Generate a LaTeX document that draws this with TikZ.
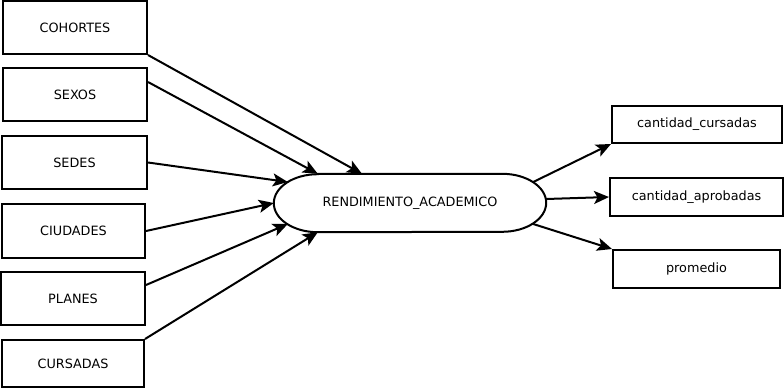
\documentclass[tikz,border=0pt]{standalone}
\usepackage{fontspec}
\setmainfont{DejaVu Sans}
\usetikzlibrary{arrows.meta,calc}
\tikzset{
  box/.style={draw, line width=2pt, inner sep=0pt, font=\fontsize{12.8}{15}\selectfont},
  link/.style={line width=2pt, -{Stealth[length=15pt,width=13pt,inset=3.5pt]}},
  hub/.style={inner sep=0pt, minimum width=272pt, minimum height=58pt, font=\fontsize{12.8}{15}\selectfont}
}
\begin{document}
\begin{tikzpicture}[x=1pt,y=-1pt]
  \useasboundingbox (0,0) rectangle (784,388);
  % sources
  \node[box, minimum width=144pt, minimum height=53pt] (coh) at (75,27.5) {COHORTES};
  \node[box, minimum width=144pt, minimum height=53pt] (sex) at (75,94.5) {SEXOS};
  \node[box, minimum width=145pt, minimum height=53pt] (sed) at (74.5,162.5) {SEDES};
  \node[box, minimum width=143pt, minimum height=54pt] (ciu) at (73.5,231) {CIUDADES};
  \node[box, minimum width=144pt, minimum height=53pt] (pla) at (73,298.5) {PLANES};
  \node[box, minimum width=142pt, minimum height=47pt] (cur) at (73,363.5) {CURSADAS};
  % central process
  \node[hub] (ren) at (410,203) {RENDIMIENTO\_ACADEMICO};
  \draw[line width=2pt]
    ($(ren.north west)+(44,0)$) -- ($(ren.north east)+(-44,0)$)
    arc[start angle=90, end angle=-90, x radius=44pt, y radius=29pt]
    -- ($(ren.south west)+(44,0)$)
    arc[start angle=270, end angle=90, x radius=44pt, y radius=29pt] -- cycle;
  % outputs
  \node[box, minimum width=170pt, minimum height=37pt] (cc) at (697,124.5) {cantidad\_cursadas};
  \node[box, minimum width=173pt, minimum height=38pt] (ca) at (696.5,197) {cantidad\_aprobadas};
  \node[box, minimum width=167pt, minimum height=38pt] (pro) at (696.5,269) {promedio};
  % inputs into the process
  \draw[link] (coh.south east) -- ($(ren.north)+(-48,0)$);
  \draw[link] ($(sex.east)+(0,-12.5)$) -- ($(ren.north west)+(44,0)$);
  \draw[link] (sed.east) -- ($(ren.west)+(14,-21)$);
  \draw[link] (ciu.east) -- (ren.west);
  \draw[link] ($(pla.east)+(0,-13.5)$) -- ($(ren.west)+(14,21)$);
  \draw[link] (cur.north east) -- ($(ren.south west)+(44,0)$);
  % process outputs
  \draw[link] ($(ren.east)+(-13,-21)$) -- (cc.south west);
  \draw[link] ($(ren.east)+(0,-4)$) -- (ca.west);
  \draw[link] ($(ren.east)+(-13,21)$) -- (pro.north west);
\end{tikzpicture}
\end{document}
